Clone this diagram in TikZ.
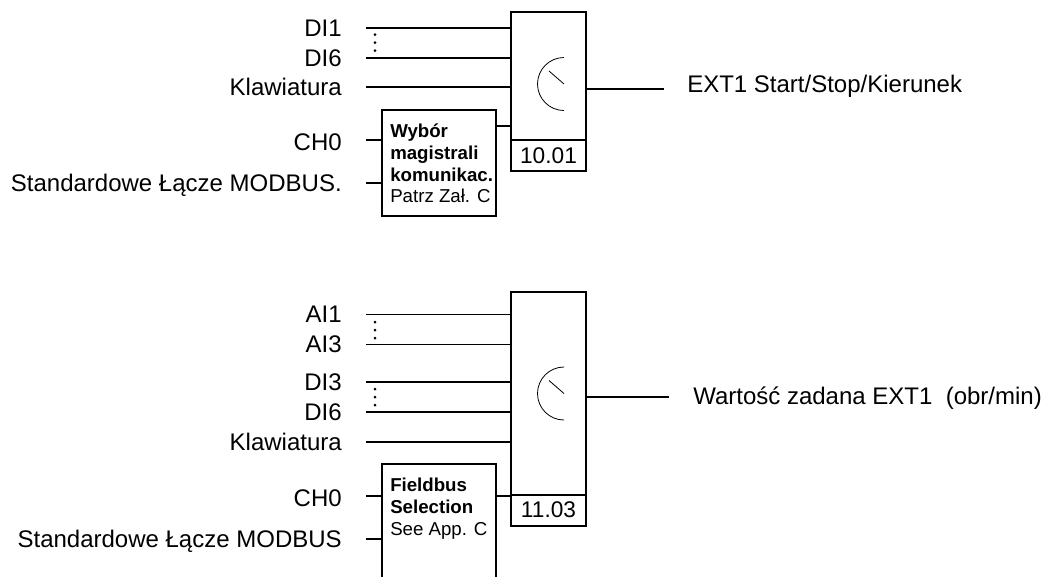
\documentclass[tikz,border=0pt]{standalone}
\usepackage{fontspec}
\setmainfont{Liberation Sans}
\tikzset{
    lab/.style={anchor=east, inner sep=0pt, font=\fontsize{18}{20}\selectfont},
    outlab/.style={anchor=west, inner sep=0pt, font=\fontsize{18}{20}\selectfont},
    block/.style={draw, line width=1.4pt, minimum width=56.25pt, inner sep=0pt, outer sep=0pt},
    numbox/.style={block, font=\fontsize{17}{18}\selectfont},
    selbox/.style={draw, line width=1.4pt, minimum width=85.5pt, inner sep=0pt, outer sep=0pt},
    seltext/.style={anchor=north west, align=left, inner sep=0pt, font=\fontsize{14}{16.2}\selectfont},
    conn/.style={line width=1.4pt},
    thinconn/.style={line width=0.75pt},
}
\begin{document}
\begin{tikzpicture}[x=0.75pt, y=-0.75pt]
    \clip (0,0) rectangle (1042,576);

    % upper selector
    \node[block, minimum height=96pt, anchor=north] (blocka) at (548.5,12) {};
    \node[numbox, minimum height=23.25pt, anchor=north] (numa) at (blocka.south) {10.01};
    \node[selbox, minimum height=79.5pt, anchor=north west] (sela) at (382,110) {};
    \node[seltext] (texta) at (390,124) {\textbf{Wybór}\\\textbf{magistrali}\\\textbf{komunikac.}\\Patrz Zał. C};

    % lower selector
    \node[block, minimum height=152pt, anchor=north] (blockb) at (548.5,292) {};
    \node[numbox, minimum height=23.25pt, anchor=north] (numb) at (blockb.south) {11.03};
    \node[selbox, minimum height=96pt, anchor=north west] (selb) at (382,464) {};
    \node[seltext] (textb) at (390,478) {\textbf{Fieldbus}\\\textbf{Selection}\\See App. C};

    % inputs going straight into the blocks
    \foreach \name/\txt/\y/\tgt/\sty in {dia/DI1/28/blocka/conn, dib/DI6/58/blocka/conn, keya/Klawiatura/87/blocka/conn,
            aic/AI1/314/blockb/thinconn, aid/AI3/344/blockb/thinconn, die/DI3/382/blockb/conn,
            dif/DI6/412/blockb/conn, keyb/Klawiatura/442/blockb/conn} {
        \node[lab] (\name) at (342,\y) {\txt};
        \coordinate (\name s) at (366,\y);
        \draw[\sty] (\name s) -- (\name s -| \tgt.west);
    }

    % inputs going into the small boxes
    \foreach \name/\txt/\y/\tgt in {cha/CH0/140/sela, moda/Standardowe Łącze MODBUS./183/sela,
            chb/CH0/496/selb, modb/Standardowe Łącze MODBUS/539/selb} {
        \node[lab] (\name) at (342,\y+2.5) {\txt};
        \coordinate (\name s) at (366,\y);
        \draw[conn] (\name s) -- (\name s -| \tgt.west);
    }

    \coordinate (linka) at (sela.east |- 0,126);
    \draw[conn] (linka) -- (linka -| blocka.west);
    \coordinate (linkb) at (selb.east |- 0,496);
    \draw[conn] (linkb) -- (linkb -| blockb.west);

    % outputs
    \coordinate (enda) at (664,89);
    \coordinate (endb) at (669,397);
    \draw[conn] (enda -| blocka.east) -- (enda);
    \draw[conn] (endb -| blockb.east) -- (endb);
    \node[outlab] (outa) at (687,86) {EXT1 Start/Stop/Kierunek};
    \node[outlab] (outb) at (693,398) {Wartość zadana EXT1~ (obr/min)};

    % dials
    \foreach \cy in {84,393.5} {
        \draw[semithick] (564,\cy-26.5) arc[start angle=270, end angle=90, radius=26.5];
        \draw[semithick] (549,\cy-13) -- (564,\cy);
    }

    % dots between the inputs
    \foreach \cy in {42.5,330,397} {
        \foreach \d in {-8,0,8} {
            \fill (375,\cy+\d) circle (1.5);
        }
    }
\end{tikzpicture}
\end{document}
